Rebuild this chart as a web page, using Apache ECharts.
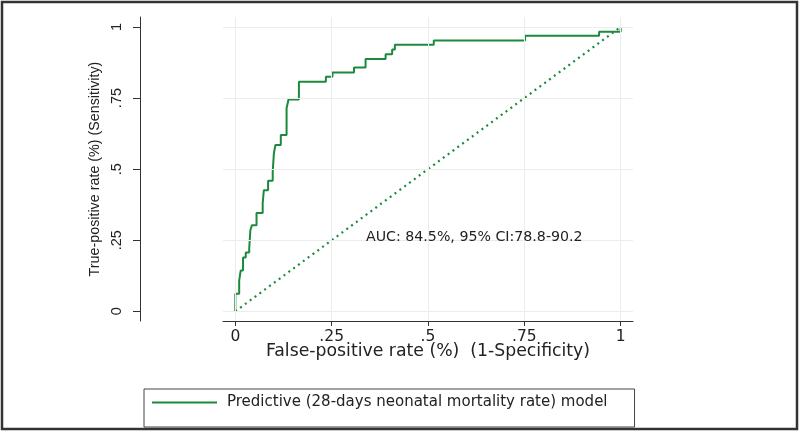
<!DOCTYPE html>
<html><head><meta charset="utf-8">
<script src="https://cdn.jsdelivr.net/npm/echarts@6/dist/echarts.min.js"></script>
<style>html,body{margin:0;padding:0;background:#fff}#c{width:800px;height:432px}</style>
</head><body><div id="c"></div>
<script>
// ROC step points (false-positive rate, true-positive rate)
const fpr = [0, 0, 0.010, 0.014, 0.020, 0.027, 0.036, 0.039, 0.043, 0.055, 0.071, 0.074, 0.085, 0.097, 0.100, 0.104, 0.118, 0.133, 0.138, 0.165, 0.235, 0.252, 0.308, 0.338, 0.390, 0.407, 0.414, 0.515, 0.752, 0.944, 1.0];
const tpr = [0, 0.062, 0.109, 0.144, 0.189, 0.207, 0.221, 0.285, 0.303, 0.346, 0.380, 0.426, 0.459, 0.490, 0.555, 0.585, 0.620, 0.714, 0.745, 0.807, 0.825, 0.840, 0.857, 0.887, 0.904, 0.921, 0.937, 0.952, 0.969, 0.983, 1.0];
const refX = [0, 1];
const refY = [0, 1];
const tickValues = [0, 0.25, 0.5, 0.75, 1];
const tickLabels = ['0', '.25', '.5', '.75', '1'];
const seriesName = 'Predictive (28-days neonatal mortality rate) model';
const aucText = 'AUC: 84.5%, 95% CI:78.8-90.2';
const xTitle = 'False-positive rate (%)  (1-Specificity)';
const yTitle = 'True-positive rate (%) (Sensitivity)';

const rocData = [[fpr[0], tpr[0]]];
for (let i = 1; i < fpr.length; i++) {
  rocData.push([fpr[i], tpr[i - 1]]);
  rocData.push([fpr[i], tpr[i]]);
}
const refData = refX.map((x, i) => [x, refY[i]]);
const fmt = v => { const i = tickValues.indexOf(v); return i >= 0 ? tickLabels[i] : ''; };
const FONT = 'DejaVu Sans, Liberation Sans, Arial, sans-serif';
const NARROW = 'Liberation Sans Narrow, Liberation Sans, Arial, sans-serif';
const green = '#1c8a3c';

const chart = echarts.init(document.getElementById('c'), null, {renderer: 'canvas'});
chart.setOption({
  backgroundColor: '#ffffff',
  animation: false,
  textStyle: {fontFamily: FONT},
  grid: {left: 223, right: 167, top: 17, bottom: 111, containLabel: false},
  xAxis: {
    type: 'value', min: -0.032, max: 1.032,
    name: xTitle, nameLocation: 'middle', nameGap: 22, nameMoveOverlap: false,
    nameTextStyle: {fontSize: 17.3, color: '#222', fontFamily: FONT},
    axisLine: {show: true, onZero: false, lineStyle: {color: '#333', width: 1}},
    axisTick: {show: true, length: 5, customValues: tickValues, lineStyle: {color: '#333'}},
    axisLabel: {customValues: tickValues, formatter: fmt, fontSize: 15.5, color: '#222', margin: 8, fontFamily: FONT},
    splitLine: {show: false}
  },
  yAxis: {
    type: 'value', min: -0.034, max: 1.035, offset: 83,
    name: yTitle, nameLocation: 'middle', nameGap: 38, nameRotate: 90, nameMoveOverlap: false,
    nameTextStyle: {fontSize: 14.3, color: '#222', fontFamily: NARROW},
    axisLine: {show: true, onZero: false, lineStyle: {color: '#333', width: 1}},
    axisTick: {show: true, length: 7, customValues: tickValues, lineStyle: {color: '#333'}},
    axisLabel: {customValues: tickValues, formatter: fmt, fontSize: 14.5, color: '#222', margin: 16, rotate: 90, fontFamily: NARROW},
    splitLine: {show: false}
  },
  legend: {
    data: [{name: seriesName, icon: 'rect'}],
    left: 144, top: 389,
    orient: 'horizontal',
    padding: [6, 27, 17, 8],
    borderColor: '#444', borderWidth: 1,
    itemWidth: 65, itemHeight: 2,
    textStyle: {fontSize: 15, color: '#222', fontFamily: FONT, padding: [0, 0, 0, 5]}
  },
  graphic: [
    {type: 'rect', shape: {x: 2, y: 2, width: 795, height: 427}, style: {fill: 'none', stroke: '#333', lineWidth: 2.5}, silent: true, z: 100},
    {type: 'text', left: 366, top: 230, style: {text: aucText, font: '14.2px ' + FONT, fill: '#222'}, z: 50}
  ],
  series: [
    {
      name: 'grid', type: 'line', data: [], silent: true, z: 1,
      markLine: {
        silent: true, symbol: 'none', label: {show: false},
        lineStyle: {color: '#ececec', type: 'solid', width: 1},
        data: tickValues.map(v => ({xAxis: v})).concat(tickValues.map(v => ({yAxis: v})))
      }
    },
    {
      name: 'Reference', type: 'line', data: refData, symbol: 'none', z: 3,
      lineStyle: {color: green, width: 2.2, type: [2, 4]}
    },
    {
      name: seriesName, type: 'line', data: rocData, symbol: 'none', z: 4,
      lineStyle: {color: green, width: 2},
      itemStyle: {color: green}
    }
  ]
});
</script></body></html>
